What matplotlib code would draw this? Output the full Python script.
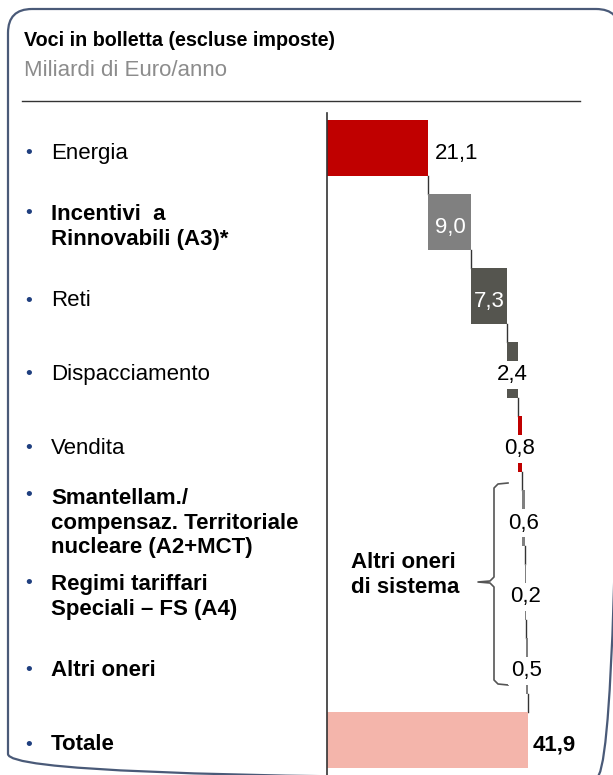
import numpy as np
import matplotlib
matplotlib.use("Agg")
import matplotlib.pyplot as plt
import matplotlib.transforms as mtransforms
from matplotlib.patches import FancyBboxPatch

plt.rcParams['font.family'] = ['Liberation Sans', 'DejaVu Sans']

# data
categories = ["Energia", "Incentivi  a\nRinnovabili (A3)*", "Reti", "Dispacciamento", "Vendita",
              "Smantellam./\ncompensaz. Territoriale\nnucleare (A2+MCT)", "Regimi tariffari\nSpeciali \u2013 FS (A4)",
              "Altri oneri", "Totale"]
bold_cat = [False, True, False, False, False, True, True, True, True]
values = [21.1, 9.0, 7.3, 2.4, 0.8, 0.6, 0.2, 0.5]
total = 41.9
value_labels = ["21,1", "9,0", "7,3", "2,4", "0,8", "0,6", "0,2", "0,5"]
total_label = "41,9"
bar_colors = ["#C00000", "#808080", "#55554F", "#55554F", "#C00000", "#808080", "#808080", "#808080"]
total_color = "#F4B5AB"

W, H = 613, 775
fig = plt.figure(figsize=(W / 100, H / 100), dpi=100)

# overlay in pixel coords for frame, title, bracket
ov = fig.add_axes([0, 0, 1, 1])
ov.set_xlim(0, W)
ov.set_ylim(H, 0)
ov.axis("off")

frame = FancyBboxPatch((8, 9), 612, 769, boxstyle="round,pad=0,rounding_size=24",
                       fc="none", ec="#4A5A78", lw=1.6)
ov.add_patch(frame)
ov.text(24, 41, "Voci in bolletta (escluse imposte)", fontsize=14.2, fontweight="bold", va="center")
ov.text(24, 70, "Miliardi di Euro/anno", fontsize=16, color="#8C8C8C", va="center")
ov.plot([22, 580], [101, 101], color="#333333", lw=1)

# bar axes: x 327 px -> 0, 4.8 px per unit; rows 74 px apart, first at y=148
px_per_unit = 4.8
x0 = 327
top_px, bot_px = 113, 775
row0, row_step = 148, 74
ax = fig.add_axes([x0 / W, 0, (W - x0) / W, (bot_px - top_px) / H])
ax.set_xlim(0, (W - x0) / px_per_unit)
ax.set_ylim((bot_px - row0) / row_step, (top_px - row0) / row_step)
ax.patch.set_alpha(0)
for s in ["top", "right", "bottom"]:
    ax.spines[s].set_visible(False)
ax.spines["left"].set_color("#333333")
ax.spines["left"].set_linewidth(1.2)
ax.set_xticks([])
ax.set_yticks([])

h = 0.75
dy = 5 / row_step  # text sits a bit lower than bar centre
cum = np.cumsum([0] + values)
rows = np.arange(len(values))
ax.barh(rows, values, left=cum[:-1], height=h, color=bar_colors, zorder=2)
ax.barh(len(values), total, height=h, color=total_color, zorder=2)

# connectors
for i in range(len(values)):
    ax.plot([cum[i + 1], cum[i + 1]], [i + h / 2, i + 1 - h / 2], color="#333333", lw=1, zorder=1)

# value labels
for i, (v, lab) in enumerate(zip(values, value_labels)):
    xc = cum[i] + v / 2
    if i == 0:
        ax.text(cum[1] + 1.4, i + dy, lab, fontsize=16, va="center", ha="left")
    elif i in (1, 2):
        ax.text(xc, i + dy, lab, fontsize=16, va="center", ha="center", color="white", zorder=3)
    else:
        ax.text(xc, i + dy, lab, fontsize=16, va="center", ha="center", zorder=3,
                bbox=dict(facecolor="white", edgecolor="none", pad=2.5))
ax.text(total + 1.0, len(values) + dy, total_label, fontsize=16, fontweight="bold", va="center", ha="left")

# category labels
tr = mtransforms.blended_transform_factory(ov.transData, ax.transData)
line_h = 27 / row_step
for i, (cat, b) in enumerate(zip(categories, bold_cat)):
    n = cat.count("\n") + 1
    ax.text(51, i + dy, cat, transform=tr, fontsize=16, fontweight="bold" if b else "normal",
            va="center", ha="left", linespacing=1.22, clip_on=False)
    ax.text(29, i + dy - (n - 1) / 2 * line_h, "\u2022", transform=tr, fontsize=14,
            color="#1F3F7F", va="center", ha="center", clip_on=False)

# bracket for "Altri oneri di sistema"
bx = [508, 498, 494, 494, 490, 478, 490, 494, 494, 498, 508]
by = [483, 484, 488, 577, 581, 582, 583, 587, 680, 684, 685]
ov.plot(bx, by, color="#555555", lw=1.2)
ov.text(351, 575, "Altri oneri\ndi sistema", fontsize=16, fontweight="bold", va="center", ha="left",
        linespacing=1.22)

fig.savefig("out.png", dpi=100)
